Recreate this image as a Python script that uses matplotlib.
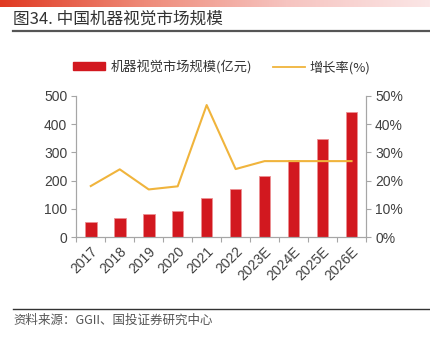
import numpy as np
import matplotlib
matplotlib.use("Agg")
import matplotlib.pyplot as plt
from matplotlib.lines import Line2D
from matplotlib.patches import Patch
from matplotlib.colors import LinearSegmentedColormap
from matplotlib.ticker import FixedLocator, PercentFormatter

plt.rcParams['font.family'] = ['Noto Sans CJK SC', 'DejaVu Sans']

years = ['2017', '2018', '2019', '2020', '2021', '2022',
         '2023E', '2024E', '2025E', '2026E']
market = [55, 69, 81, 94, 138, 169, 215, 274, 347, 441]   # 亿元
growth = [18.1, 24.0, 16.9, 18.0, 46.7, 24.1, 26.9, 26.9, 26.9, 26.9]  # %

bar_red = '#d2181f'
line_gold = '#f0b43c'
axis_grey = '#a6a6a6'
text_grey = '#404040'
num_font = ['Liberation Sans', 'DejaVu Sans']

fig = plt.figure(figsize=(4.3, 3.4), dpi=100)

# red fading strip across the top
grad = fig.add_axes([0, 1 - 7 / 340, 1, 7 / 340])
g = np.linspace(0, 1, 256)
cmap = LinearSegmentedColormap.from_list('strip', ['#e03a22', '#ee8a78', '#f6c4c0', '#fbe6e6'])
grad.imshow(g[None, :], aspect='auto', cmap=cmap, extent=[0, 1, 0, 1])
grad.axis('off')

fig.text(13 / 430, 1 - 19 / 340, '图34. 中国机器视觉市场规模', fontsize=12,
         color='#333333', va='center', ha='left')
fig.add_artist(Line2D([13 / 430, 1], [1 - 31 / 340] * 2, color='#555555', lw=1.6))

ax = fig.add_axes([76.3 / 430, 1 - 237.3 / 340, (366 - 76.3) / 430, (237.3 - 95.7) / 340])
x = np.arange(len(years))
ax.bar(x, market, width=0.4, color=bar_red, edgecolor='#ec8f92', linewidth=0.6, zorder=2)
ax.set_xlim(-0.5, len(years) - 0.5)
ax.set_ylim(0, 500)
ax.set_yticks(range(0, 501, 100))

ax2 = ax.twinx()
ax2.plot(x, growth, color=line_gold, lw=1.5, zorder=3)
ax2.set_ylim(0, 50)
ax2.set_yticks(range(0, 51, 10))
ax2.yaxis.set_major_formatter(PercentFormatter(decimals=0))

for a in (ax, ax2):
    a.spines['top'].set_visible(False)
    for s in ('left', 'right', 'bottom'):
        a.spines[s].set_color(axis_grey)
        a.spines[s].set_linewidth(0.8)
    a.tick_params(axis='y', colors=axis_grey, labelcolor=text_grey, length=3.5,
                  width=0.8, pad=3, labelsize=10)
    for lab in a.get_yticklabels():
        lab.set_family(num_font)

ax.set_xticks(x)
ax.set_xticklabels(years, rotation=45, ha='right', rotation_mode='anchor',
                   family=num_font, fontsize=10, color=text_grey)
ax.tick_params(axis='x', which='major', length=0, pad=5)
ax.xaxis.set_minor_locator(FixedLocator(np.arange(-0.5, len(years), 1.0)))
ax.tick_params(axis='x', which='minor', length=3.5, width=0.8, color=axis_grey)

handles = [Patch(facecolor=bar_red, edgecolor=bar_red),
           Line2D([], [], color=line_gold, lw=1.3)]
fig.legend(handles, ['机器视觉市场规模(亿元)', '增长率(%)'], loc='center',
           bbox_to_anchor=(222 / 430, 1 - 67 / 340), ncol=2, frameon=False,
           fontsize=9.5, handlelength=2.4, handleheight=0.55, handletextpad=0.4,
           columnspacing=1.6, labelcolor='#333333')

fig.add_artist(Line2D([13 / 430, 1], [1 - 309 / 340] * 2, color='#333333', lw=1.0))
fig.text(13 / 430, 1 - 320 / 340, '资料来源：GGII、国投证券研究中心', fontsize=9,
         color='#555555', va='center', ha='left', style='italic')

fig.savefig('out.png', dpi=100)
